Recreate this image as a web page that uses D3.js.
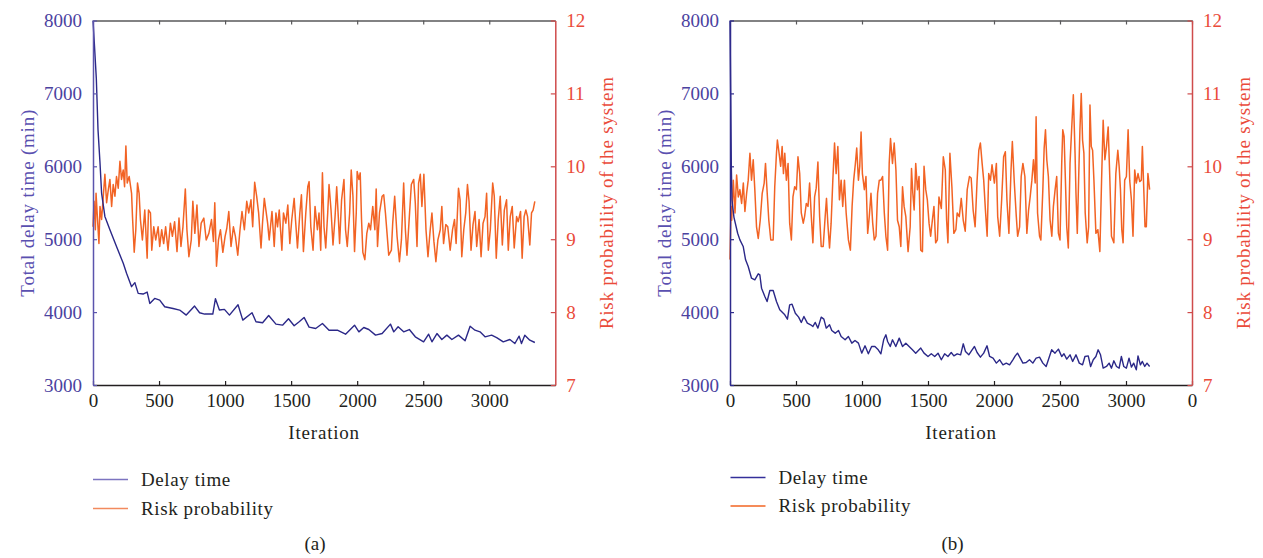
<!DOCTYPE html>
<html><head><meta charset="utf-8">
<script src="https://cdn.jsdelivr.net/npm/d3@7"></script>
<style>
html,body{margin:0;padding:0;background:#fff;}
svg text{font-family:"Liberation Serif","Times New Roman",serif;}
</style></head>
<body><svg id="c" width="1263" height="558"></svg>
<script>
// ---------- data ----------
const xDomain = [0, 3500];
const delayDomain = [3000, 8000];
const riskDomain = [7, 12];
const delayTicks = [3000, 4000, 5000, 6000, 7000, 8000];
const delayTickLabels = ["3000", "4000", "5000", "6000", "7000", "8000"];
const riskTicks = [7, 8, 9, 10, 11, 12];
const riskTickLabels = ["7", "8", "9", "10", "11", "12"];
const xTicksA = [0, 500, 1000, 1500, 2000, 2500, 3000];
const xTickLabelsA = ["0", "500", "1000", "1500", "2000", "2500", "3000"];
const xTicksB = [0, 500, 1000, 1500, 2000, 2500, 3000, 3500];
const xTickLabelsB = ["0", "500", "1000", "1500", "2000", "2500", "3000", "0"];
const legendLabels = ["Delay time", "Risk probability"];
const panelLabels = ["(a)", "(b)"];
const xTitle = "Iteration";
const yLeftTitle = "Total delay time (min)";
const yRightTitle = "Risk probability of the system";

// panel (a): [iteration, total delay time]
const delayA = [[0,8000],[10,7690],[25,7210],[38,6500],[53,6046],[65,5633],[90,5312],[128,5128],[178,4899],[229,4670],[254,4532],[292,4349],[317,4404],[342,4257],[379,4248],[410,4275],[430,4119],[467,4188],[505,4165],[543,4073],[606,4050],[656,4028],[706,3959],[769,4083],[807,3991],[845,3973],[907,3973],[927,4184],[957,4028],[995,4037],[1033,3959],[1098,4101],[1134,3890],[1204,3991],[1234,3867],[1284,3853],[1330,3954],[1385,3835],[1435,3821],[1480,3908],[1523,3812],[1561,3867],[1598,3927],[1636,3794],[1686,3775],[1737,3844],[1787,3752],[1850,3752],[1912,3697],[1980,3821],[2013,3729],[2050,3789],[2088,3761],[2139,3684],[2189,3706],[2252,3835],[2277,3729],[2310,3798],[2352,3729],[2395,3761],[2440,3661],[2503,3592],[2541,3697],[2566,3592],[2604,3706],[2641,3624],[2679,3684],[2717,3624],[2767,3684],[2817,3606],[2855,3807],[2892,3752],[2930,3729],[2968,3661],[3018,3684],[3056,3651],[3106,3592],[3156,3624],[3194,3569],[3226,3670],[3244,3569],[3269,3684],[3307,3615],[3345,3583]];

// panel (a): [iteration, risk probability]
const riskA = [[0,9.17],[8,9.52],[18,9.13],[23,9.63],[33,9.31],[45,8.94],[53,9.45],[65,9.27],[78,9.59],[90,9.89],[103,9.50],[116,9.68],[128,9.82],[141,9.45],[153,9.75],[166,9.59],[178,9.86],[191,9.70],[204,10.07],[216,9.82],[229,9.95],[239,9.72],[249,10.28],[259,9.77],[274,9.86],[292,9.63],[299,9.31],[312,8.82],[324,9.13],[337,9.77],[349,9.63],[359,9.27],[374,8.99],[392,9.40],[410,8.74],[420,9.40],[435,9.36],[445,8.85],[460,9.17],[475,8.99],[493,9.17],[505,8.90],[520,9.13],[535,8.94],[550,9.17],[568,8.85],[586,9.22],[601,9.04],[618,9.24],[636,8.83],[651,9.29],[666,8.90],[681,9.17],[699,9.69],[711,9.13],[726,8.76],[744,8.99],[756,9.52],[771,9.08],[787,9.47],[802,8.90],[819,9.22],[839,9.29],[857,8.99],[877,9.08],[897,9.27],[912,8.97],[922,9.50],[935,8.63],[950,8.99],[965,9.13],[983,8.82],[1000,9.04],[1013,9.15],[1028,9.38],[1045,8.90],[1063,9.17],[1078,9.04],[1096,8.78],[1113,9.13],[1128,9.38],[1146,9.13],[1164,9.52],[1179,9.36],[1196,9.54],[1209,9.17],[1224,9.78],[1239,9.59],[1254,9.36],[1272,8.88],[1284,9.24],[1297,9.56],[1309,9.40],[1322,9.22],[1334,8.99],[1355,9.38],[1372,8.90],[1385,9.36],[1397,9.17],[1410,9.40],[1430,8.85],[1442,9.36],[1460,9.22],[1475,9.47],[1490,8.94],[1505,9.27],[1523,9.56],[1533,9.27],[1548,8.88],[1566,9.36],[1578,9.61],[1593,8.83],[1611,9.36],[1626,9.72],[1636,9.79],[1649,9.17],[1666,8.85],[1681,9.45],[1699,9.13],[1711,9.36],[1724,8.85],[1737,9.91],[1749,9.17],[1762,8.88],[1777,9.36],[1787,9.75],[1802,9.40],[1817,8.92],[1832,9.29],[1845,9.72],[1857,9.31],[1867,8.94],[1882,9.54],[1900,9.82],[1912,9.13],[1925,8.90],[1943,9.36],[1955,9.95],[1968,9.59],[1980,8.83],[1993,9.36],[2000,9.93],[2013,9.82],[2023,9.91],[2033,9.27],[2043,8.82],[2058,8.72],[2073,9.08],[2088,9.22],[2101,9.13],[2118,9.45],[2134,9.13],[2144,9.69],[2154,8.90],[2169,9.36],[2189,9.59],[2201,9.61],[2214,9.36],[2227,9.06],[2239,8.78],[2259,8.85],[2269,9.22],[2284,9.59],[2302,9.04],[2320,8.69],[2335,8.99],[2352,9.77],[2365,9.13],[2377,8.78],[2395,9.31],[2410,9.75],[2428,9.82],[2440,9.50],[2453,8.90],[2465,9.77],[2478,9.89],[2490,9.45],[2505,9.89],[2521,9.13],[2536,8.76],[2553,9.13],[2566,9.36],[2581,8.97],[2596,8.69],[2611,8.99],[2629,9.13],[2641,9.45],[2654,8.94],[2671,9.20],[2686,9.17],[2704,8.85],[2722,9.13],[2737,9.27],[2749,8.94],[2767,9.70],[2779,9.54],[2792,8.76],[2807,9.13],[2822,9.36],[2835,9.75],[2847,9.52],[2862,8.85],[2877,9.20],[2892,9.38],[2905,8.90],[2923,9.27],[2938,8.76],[2953,9.22],[2968,9.31],[2980,9.63],[2993,8.85],[3008,9.13],[3026,9.77],[3038,9.59],[3053,8.74],[3068,9.27],[3083,9.59],[3099,8.92],[3114,9.40],[3131,9.54],[3144,8.85],[3159,9.31],[3174,9.45],[3189,8.88],[3207,9.31],[3219,9.24],[3237,9.38],[3249,8.74],[3264,9.31],[3277,9.40],[3290,9.31],[3307,8.92],[3320,9.36],[3332,9.40],[3345,9.52]];

// panel (b): [iteration, total delay time]
const delayB = [[0,8000],[5,7000],[10,6000],[15,5540],[30,5300],[58,5082],[75,4991],[100,4900],[118,4717],[138,4625],[163,4465],[188,4442],[214,4525],[226,4511],[239,4328],[264,4214],[281,4145],[302,4296],[327,4296],[352,4145],[377,4031],[415,3963],[435,3903],[452,4100],[470,4109],[495,3985],[520,3931],[540,3858],[560,3940],[586,3848],[611,3826],[628,3803],[646,3858],[666,3780],[691,3931],[711,3903],[729,3780],[754,3826],[771,3748],[797,3711],[822,3748],[842,3666],[872,3620],[897,3666],[923,3574],[947,3611],[973,3574],[998,3437],[1023,3538],[1048,3428],[1073,3528],[1098,3528],[1123,3483],[1143,3428],[1164,3620],[1181,3689],[1194,3597],[1214,3528],[1231,3620],[1256,3528],[1282,3643],[1307,3528],[1332,3574],[1357,3528],[1382,3483],[1407,3437],[1445,3506],[1470,3437],[1500,3391],[1525,3428],[1551,3391],[1576,3437],[1601,3346],[1626,3428],[1651,3391],[1676,3446],[1696,3400],[1721,3428],[1747,3414],[1767,3565],[1784,3460],[1809,3414],[1834,3483],[1852,3528],[1872,3446],[1897,3382],[1922,3437],[1947,3538],[1967,3391],[1993,3368],[2018,3300],[2043,3346],[2068,3277],[2093,3300],[2118,3277],[2143,3346],[2161,3400],[2178,3437],[2199,3368],[2219,3300],[2244,3309],[2269,3346],[2294,3300],[2319,3368],[2345,3382],[2370,3300],[2395,3254],[2412,3346],[2437,3483],[2462,3437],[2488,3492],[2513,3391],[2530,3428],[2551,3355],[2576,3414],[2596,3323],[2621,3414],[2646,3300],[2671,3277],[2689,3391],[2714,3400],[2732,3254],[2752,3346],[2772,3391],[2789,3483],[2807,3414],[2827,3231],[2852,3254],[2872,3300],[2890,3231],[2908,3332],[2928,3254],[2948,3231],[2965,3391],[2983,3254],[3003,3231],[3023,3368],[3041,3245],[3058,3300],[3078,3208],[3091,3400],[3109,3277],[3124,3323],[3142,3254],[3159,3300],[3179,3254]];

// panel (b): [iteration, risk probability]
const riskB = [[0,8.72],[8,9.45],[13,9.26],[25,9.81],[38,9.36],[50,9.88],[63,9.58],[75,9.68],[88,9.49],[101,9.77],[113,9.38],[126,9.63],[138,9.81],[151,10.18],[163,9.81],[176,10.09],[188,9.68],[201,9.17],[214,9.01],[229,9.26],[244,9.63],[259,9.77],[269,10.04],[279,9.72],[294,9.26],[309,8.99],[327,8.99],[339,9.72],[352,10.18],[359,10.36],[369,10.22],[384,10.00],[395,10.27],[405,9.90],[415,10.18],[427,9.81],[440,10.04],[452,9.22],[465,8.99],[477,9.58],[490,9.72],[503,9.68],[515,10.13],[528,9.90],[540,9.36],[555,9.22],[565,9.31],[578,9.49],[591,9.45],[603,9.77],[616,9.31],[628,8.95],[641,9.58],[653,9.70],[666,10.06],[679,9.31],[691,8.90],[706,8.90],[721,9.31],[731,9.56],[741,9.22],[754,8.88],[766,9.22],[779,9.81],[792,10.32],[804,9.90],[817,10.27],[829,9.54],[842,9.81],[854,9.45],[867,9.81],[880,9.36],[897,8.99],[912,8.85],[925,9.45],[937,9.81],[950,10.04],[960,10.25],[973,9.81],[983,10.00],[993,10.47],[1003,9.90],[1018,9.68],[1030,9.86],[1043,9.08],[1055,9.31],[1068,9.63],[1081,9.22],[1093,8.99],[1106,9.04],[1118,9.63],[1131,9.81],[1143,9.81],[1156,9.86],[1169,9.36],[1181,9.04],[1194,8.85],[1206,10.04],[1216,10.38],[1231,10.04],[1244,10.32],[1257,9.95],[1269,9.26],[1282,9.17],[1294,8.90],[1307,9.72],[1319,9.45],[1332,9.31],[1349,8.83],[1365,9.17],[1375,9.97],[1385,9.63],[1395,9.40],[1407,10.04],[1420,9.68],[1432,9.86],[1445,8.85],[1458,8.83],[1470,10.00],[1483,9.68],[1495,9.54],[1508,9.22],[1520,9.04],[1533,9.26],[1545,9.45],[1558,8.95],[1571,8.99],[1583,9.58],[1601,9.42],[1616,10.13],[1631,9.95],[1641,9.26],[1651,8.95],[1666,10.18],[1681,9.72],[1696,9.08],[1711,9.13],[1721,9.36],[1737,9.31],[1752,9.56],[1767,9.26],[1782,9.11],[1797,9.68],[1814,9.86],[1827,9.84],[1842,9.40],[1857,9.17],[1872,9.81],[1885,10.22],[1897,10.32],[1910,10.04],[1922,9.81],[1935,9.40],[1948,9.04],[1960,9.90],[1973,9.81],[1985,10.02],[2003,9.77],[2018,10.04],[2028,9.31],[2043,9.04],[2058,9.54],[2073,10.13],[2086,10.20],[2098,9.54],[2113,9.08],[2129,9.95],[2139,10.34],[2154,9.77],[2169,9.31],[2179,9.04],[2194,9.17],[2206,9.86],[2219,10.04],[2234,9.86],[2249,9.08],[2262,9.40],[2274,9.58],[2287,9.81],[2299,10.09],[2312,9.77],[2319,10.68],[2330,9.36],[2345,9.04],[2355,8.99],[2370,9.68],[2380,10.25],[2390,10.50],[2400,10.09],[2412,9.86],[2425,9.26],[2438,9.04],[2450,9.45],[2463,9.68],[2475,9.86],[2488,9.08],[2500,8.99],[2513,10.04],[2521,10.50],[2531,10.41],[2541,9.81],[2551,9.17],[2563,8.88],[2576,10.04],[2588,10.50],[2601,10.98],[2614,10.18],[2621,9.63],[2631,9.08],[2641,9.81],[2651,10.50],[2661,11.00],[2671,10.36],[2681,10.18],[2691,9.36],[2706,8.95],[2717,9.17],[2727,10.84],[2737,10.27],[2747,10.22],[2757,9.81],[2772,9.08],[2787,9.13],[2802,8.83],[2815,9.81],[2827,10.63],[2840,10.09],[2852,10.27],[2865,10.54],[2877,9.86],[2890,9.04],[2908,8.95],[2923,9.90],[2938,10.22],[2948,10.00],[2958,9.68],[2968,9.13],[2978,8.95],[2990,9.81],[3003,9.86],[3016,10.50],[3028,9.81],[3041,9.54],[3053,9.04],[3066,9.95],[3078,9.77],[3091,9.90],[3104,9.79],[3116,9.81],[3124,10.27],[3134,9.72],[3144,9.17],[3154,9.17],[3166,9.90],[3179,9.68]];

// ---------- drawing ----------
const svg = d3.select("#c");
const FS = 19;
const panels = [
  {delay: delayA, risk: riskA, xr: [93, 555.3], ticks: xTicksA, labels: xTickLabelsA,
   leftAxisColor: "#5b54ad", legY: [479.5, 508.5], legX: 93, legColors: ["#7c74c0", "#f28a5e"],
   label: panelLabels[0], labelX: 315},
  {delay: delayB, risk: riskB, xr: [730, 1192], ticks: xTicksB, labels: xTickLabelsB,
   leftAxisColor: "#2e2a8c", legY: [477.5, 506], legX: 730.5, legColors: ["#34309a", "#f26522"],
   label: panelLabels[1], labelX: 952.5}
];
const yr = [385, 20.5];
const delayColor = "#2b2888";
const riskColor = "#f26324";
const leftTextColor = "#4b429f";
const rightTextColor = "#ea4b3a";
const rightAxisColor = "#cf4b4b";
const darkText = "#231f20";

panels.forEach(p => {
  const x = d3.scaleLinear().domain(xDomain).range(p.xr);
  const yL = d3.scaleLinear().domain(delayDomain).range(yr);
  const yR = d3.scaleLinear().domain(riskDomain).range(yr);
  const g = svg.append("g");

  // series
  const lineRisk = d3.line().x(d => x(d[0])).y(d => yR(d[1]));
  const lineDelay = d3.line().x(d => x(d[0])).y(d => yL(d[1]));
  g.append("path").datum(p.risk).attr("d", lineRisk)
    .attr("fill", "none").attr("stroke", riskColor).attr("stroke-width", 1.5)
    .attr("stroke-linejoin", "round");
  g.append("path").datum(p.delay).attr("d", lineDelay)
    .attr("fill", "none").attr("stroke", delayColor).attr("stroke-width", 1.4)
    .attr("stroke-linejoin", "round");

  // top axis (no labels)
  const top = g.append("g").attr("transform", `translate(0,${yr[1]})`)
    .call(d3.axisTop(x).tickValues(p.ticks.filter(v => v > 0)).tickSize(-4).tickSizeOuter(0).tickFormat(""));
  top.select(".domain").attr("stroke", "#58585a").attr("stroke-width", 1.3);
  top.selectAll(".tick line").attr("stroke", "#58585a").attr("stroke-width", 1.2);

  // bottom axis
  const bot = g.append("g").attr("transform", `translate(0,${yr[0]})`)
    .call(d3.axisBottom(x).tickValues(p.ticks).tickSize(-4).tickSizeOuter(0).tickPadding(9)
      .tickFormat((d, i) => p.labels[i]));
  bot.select(".domain").attr("stroke", darkText).attr("stroke-width", 1.3);
  bot.selectAll(".tick line").attr("stroke", darkText).attr("stroke-width", 1.2);
  bot.selectAll("text").attr("fill", darkText).attr("font-size", FS)
    .attr("font-family", "Liberation Serif, serif");

  // left axis
  const lft = g.append("g").attr("transform", `translate(${p.xr[0]},0)`)
    .call(d3.axisLeft(yL).tickValues(delayTicks).tickSize(-4).tickSizeOuter(0).tickPadding(11)
      .tickFormat((d, i) => delayTickLabels[i]));
  lft.select(".domain").attr("stroke", p.leftAxisColor).attr("stroke-width", 1.5);
  lft.selectAll(".tick line").attr("stroke", p.leftAxisColor).attr("stroke-width", 1.2);
  lft.selectAll("text").attr("fill", leftTextColor).attr("font-size", FS)
    .attr("font-family", "Liberation Serif, serif");

  // right axis
  const rgt = g.append("g").attr("transform", `translate(${p.xr[1]},0)`)
    .call(d3.axisRight(yR).tickValues(riskTicks).tickSize(-4.5).tickSizeOuter(0).tickPadding(11)
      .tickFormat((d, i) => riskTickLabels[i]));
  rgt.select(".domain").attr("stroke", rightAxisColor).attr("stroke-width", 1.5);
  rgt.selectAll(".tick line").attr("stroke", rightAxisColor).attr("stroke-width", 1.2);
  rgt.selectAll("text").attr("fill", rightTextColor).attr("font-size", FS)
    .attr("font-family", "Liberation Serif, serif");

  const cx = (p.xr[0] + p.xr[1]) / 2;
  const cy = (yr[0] + yr[1]) / 2;
  // titles
  g.append("text").attr("x", cx).attr("y", 439).attr("text-anchor", "middle")
    .attr("fill", darkText).attr("font-size", FS).attr("letter-spacing", "0.8px").text(xTitle);
  g.append("text").attr("transform", `translate(${p.xr[0] - 66},${cy}) rotate(-90)`)
    .attr("text-anchor", "middle").attr("dy", "0.35em")
    .attr("fill", "#5a50b0").attr("font-size", FS).attr("letter-spacing", "0.8px").text(yLeftTitle);
  g.append("text").attr("transform", `translate(${p.xr[1] + 51},${cy}) rotate(-90)`)
    .attr("text-anchor", "middle").attr("dy", "0.35em")
    .attr("fill", rightTextColor).attr("font-size", FS).attr("letter-spacing", "0.8px").text(yRightTitle);

  // legend
  legendLabels.forEach((lab, i) => {
    g.append("line").attr("x1", p.legX).attr("x2", p.legX + 35)
      .attr("y1", p.legY[i]).attr("y2", p.legY[i])
      .attr("stroke", p.legColors[i]).attr("stroke-width", 1.5);
    g.append("text").attr("x", p.legX + 48).attr("y", p.legY[i]).attr("dy", "0.32em")
      .attr("fill", darkText).attr("font-size", FS).attr("letter-spacing", "0.6px").text(lab);
  });
  g.append("text").attr("x", p.labelX).attr("y", 550).attr("text-anchor", "middle")
    .attr("fill", darkText).attr("font-size", FS).text(p.label);
});
</script></body></html>
